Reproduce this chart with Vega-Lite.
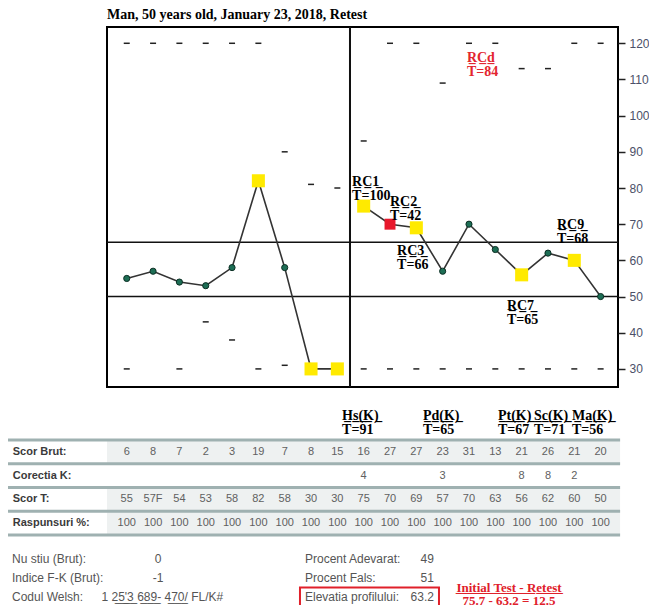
{
  "$schema": "https://vega.github.io/schema/vega-lite/v6.json",
  "width": 511,
  "height": 360,
  "autosize": {"type": "none"},
  "padding": {"left": 107, "top": 27, "right": 31, "bottom": 218},
  "background": "white",
  "config": {
    "view": {"stroke": "black", "strokeWidth": 2},
    "font": "Liberation Sans"
  },
  "title": {
    "text": "Man, 50 years old, January 23, 2018, Retest",
    "anchor": "start",
    "frame": "group",
    "font": "Liberation Serif",
    "fontSize": 14,
    "fontWeight": "bold",
    "color": "black",
    "offset": 4
  },
  "datasets": {
    "scales": [
      {"n": 1, "scale": "VRIN", "raw": "6", "kcorr": "", "tscore": "55", "resp": "100", "t": 55, "status": "normal", "part": "validity"},
      {"n": 2, "scale": "TRIN", "raw": "8", "kcorr": "", "tscore": "57F", "resp": "100", "t": 57, "status": "normal", "part": "validity"},
      {"n": 3, "scale": "F", "raw": "7", "kcorr": "", "tscore": "54", "resp": "100", "t": 54, "status": "normal", "part": "validity"},
      {"n": 4, "scale": "FB", "raw": "2", "kcorr": "", "tscore": "53", "resp": "100", "t": 53, "status": "normal", "part": "validity"},
      {"n": 5, "scale": "FP", "raw": "3", "kcorr": "", "tscore": "58", "resp": "100", "t": 58, "status": "normal", "part": "validity"},
      {"n": 6, "scale": "FBS", "raw": "19", "kcorr": "", "tscore": "82", "resp": "100", "t": 82, "status": "flag", "part": "validity"},
      {"n": 7, "scale": "L", "raw": "7", "kcorr": "", "tscore": "58", "resp": "100", "t": 58, "status": "normal", "part": "validity"},
      {"n": 8, "scale": "K", "raw": "8", "kcorr": "", "tscore": "30", "resp": "100", "t": 30, "status": "flag", "part": "validity"},
      {"n": 9, "scale": "S", "raw": "15", "kcorr": "", "tscore": "30", "resp": "100", "t": 30, "status": "flag", "part": "validity"},
      {"n": 10, "scale": "Hs", "raw": "16", "kcorr": "4", "tscore": "75", "resp": "100", "t": 75, "status": "flag", "part": "clinical"},
      {"n": 11, "scale": "D", "raw": "27", "kcorr": "", "tscore": "70", "resp": "100", "t": 70, "status": "alert", "part": "clinical"},
      {"n": 12, "scale": "Hy", "raw": "27", "kcorr": "", "tscore": "69", "resp": "100", "t": 69, "status": "flag", "part": "clinical"},
      {"n": 13, "scale": "Pd", "raw": "23", "kcorr": "3", "tscore": "57", "resp": "100", "t": 57, "status": "normal", "part": "clinical"},
      {"n": 14, "scale": "Mf", "raw": "31", "kcorr": "", "tscore": "70", "resp": "100", "t": 70, "status": "normal", "part": "clinical"},
      {"n": 15, "scale": "Pa", "raw": "13", "kcorr": "", "tscore": "63", "resp": "100", "t": 63, "status": "normal", "part": "clinical"},
      {"n": 16, "scale": "Pt", "raw": "21", "kcorr": "8", "tscore": "56", "resp": "100", "t": 56, "status": "flag", "part": "clinical"},
      {"n": 17, "scale": "Sc", "raw": "26", "kcorr": "8", "tscore": "62", "resp": "100", "t": 62, "status": "normal", "part": "clinical"},
      {"n": 18, "scale": "Ma", "raw": "21", "kcorr": "2", "tscore": "60", "resp": "100", "t": 60, "status": "flag", "part": "clinical"},
      {"n": 19, "scale": "Si", "raw": "20", "kcorr": "", "tscore": "50", "resp": "100", "t": 50, "status": "normal", "part": "clinical"}
    ],
    "bounds": [
      {"n": 1, "bound": 120}, {"n": 1, "bound": 30},
      {"n": 2, "bound": 120},
      {"n": 3, "bound": 120}, {"n": 3, "bound": 30},
      {"n": 4, "bound": 120}, {"n": 4, "bound": 43},
      {"n": 5, "bound": 120}, {"n": 5, "bound": 38},
      {"n": 6, "bound": 120}, {"n": 6, "bound": 30},
      {"n": 7, "bound": 90}, {"n": 7, "bound": 31},
      {"n": 8, "bound": 81},
      {"n": 9, "bound": 80},
      {"n": 10, "bound": 93}, {"n": 10, "bound": 30},
      {"n": 11, "bound": 120}, {"n": 11, "bound": 30},
      {"n": 12, "bound": 120}, {"n": 12, "bound": 30},
      {"n": 13, "bound": 109}, {"n": 13, "bound": 30},
      {"n": 14, "bound": 120}, {"n": 14, "bound": 30},
      {"n": 15, "bound": 120}, {"n": 15, "bound": 30},
      {"n": 16, "bound": 113}, {"n": 16, "bound": 30},
      {"n": 17, "bound": 113}, {"n": 17, "bound": 30},
      {"n": 18, "bound": 120}, {"n": 18, "bound": 30},
      {"n": 19, "bound": 120}, {"n": 19, "bound": 30}
    ],
    "levels": [{"level": 50}, {"level": 65}],
    "notes": [
      {"label": "R\u0332C\u03321\u0332", "tv": "T=100", "n": 9.56, "y": 80.6, "group": "RC"},
      {"label": "R\u0332C\u03322\u0332", "tv": "T=42", "n": 11.0, "y": 75.0, "group": "RC"},
      {"label": "R\u0332C\u03323\u0332", "tv": "T=66", "n": 11.27, "y": 61.4, "group": "RC"},
      {"label": "R\u0332C\u03329\u0332", "tv": "T=68", "n": 17.34, "y": 68.8, "group": "RC"},
      {"label": "R\u0332C\u03327\u0332", "tv": "T=65", "n": 15.44, "y": 46.4, "group": "RC"},
      {"label": "R\u0332C\u0332d\u0332", "tv": "T=84", "n": 13.92, "y": 114.8, "group": "RCd"},
      {"label": "H\u0332s\u0332(\u0332K\u0332)\u0332", "tv": "T=91", "n": 9.18, "y": 15.8, "group": "K"},
      {"label": "P\u0332d\u0332(\u0332K\u0332)\u0332", "tv": "T=65", "n": 12.25, "y": 15.8, "group": "K"},
      {"label": "P\u0332t\u0332(\u0332K\u0332)\u0332", "tv": "T=67", "n": 15.1, "y": 15.8, "group": "K"},
      {"label": "S\u0332c\u0332(\u0332K\u0332)\u0332", "tv": "T=71", "n": 16.47, "y": 15.8, "group": "K"},
      {"label": "M\u0332a\u0332(\u0332K\u0332)\u0332", "tv": "T=56", "n": 17.91, "y": 15.8, "group": "K"}
    ],
    "rows": [
      {"key": "raw", "label": "Scor Brut:", "shaded": "yes"},
      {"key": "kcorr", "label": "Corectia K:", "shaded": "no"},
      {"key": "tscore", "label": "Scor T:", "shaded": "yes"},
      {"key": "resp", "label": "Raspunsuri %:", "shaded": "yes"}
    ],
    "footer": [
      {"line": "r1", "label": "Nu stiu (Brut):", "value": "0", "code": "", "label2": "Procent Adevarat:", "value2": "49", "boxed": "no", "compare": "", "diff": ""},
      {"line": "r2", "label": "Indice F-K (Brut):", "value": "-1", "code": "", "label2": "Procent Fals:", "value2": "51", "boxed": "no", "compare": "", "diff": ""},
      {"line": "r3", "label": "Codul Welsh:", "value": "", "code": "1 2\u03325\u0332'\u03323\u0332 6\u03328\u03329\u0332- 4\u03327\u03320\u0332/ FL/K#", "label2": "Elevatia profilului:", "value2": "63.2", "boxed": "yes", "compare": "I\u0332n\u0332i\u0332t\u0332i\u0332a\u0332l\u0332 \u0332T\u0332e\u0332s\u0332t\u0332 \u0332-\u0332 \u0332R\u0332e\u0332t\u0332e\u0332s\u0332t\u0332", "diff": "75.7 - 63.2 = 12.5"}
    ]
  },
  "layer": [
    {
      "layer": [
        {
          "data": {"name": "levels"},
          "mark": {"type": "rule", "color": "#111", "strokeWidth": 1.6},
          "encoding": {
            "y": {"field": "level", "type": "quantitative", "scale": {"domain": [25, 124.5], "nice": false, "zero": false}, "axis": null}
          }
        },
        {
          "data": {"name": "levels"},
          "mark": {"type": "rule", "color": "#111", "strokeWidth": 2},
          "encoding": {
            "x": {"datum": 9.48, "type": "quantitative", "scale": {"domain": [0.25, 19.66], "nice": false, "zero": false}, "axis": null}
          }
        },
        {
          "data": {"name": "scales"},
          "mark": {"type": "line", "color": "#333", "strokeWidth": 1.6},
          "encoding": {
            "x": {
              "field": "n", "type": "quantitative",
              "scale": {"domain": [0.25, 19.66], "nice": false, "zero": false},
              "axis": {
                "values": [1, 2, 3, 4, 5, 6, 7, 8, 9, 10, 11, 12, 13, 14, 15, 16, 17, 18, 19],
                "labelExpr": "['VRIN','TRIN','F','FB','FP','FBS','L','K','S','Hs','D','Hy','Pd','Mf','Pa','Pt','Sc','Ma','Si'][datum.value - 1]",
                "title": null, "domain": false, "tickSize": 6, "tickColor": "#222", "tickWidth": 1.5,
                "labelFont": "Liberation Sans", "labelFontSize": 9, "labelColor": "#7d86a3", "labelPadding": 6,
                "labelFlush": false, "labelOverlap": false, "labelBound": false,
                "grid": true, "gridColor": "#ebebeb", "gridDash": [2, 2]
              }
            },
            "y": {
              "field": "t", "type": "quantitative",
              "scale": {"domain": [25, 124.5], "nice": false, "zero": false},
              "axis": {
                "values": [30, 40, 50, 60, 70, 80, 90, 100, 110, 120],
                "title": null, "domain": false, "grid": false, "tickSize": 7, "tickColor": "#222", "tickWidth": 1.5,
                "labelFont": "Liberation Sans", "labelFontSize": 12, "labelColor": "#4b5068", "labelPadding": 3
              }
            },
            "detail": {"field": "part", "type": "nominal"}
          }
        },
        {
          "data": {"name": "scales"},
          "transform": [{"filter": "datum.status === 'normal'"}],
          "mark": {"type": "point", "shape": "circle", "filled": true, "size": 38, "color": "#1d6e55", "stroke": "#0c2f24", "strokeWidth": 1, "opacity": 1},
          "encoding": {
            "x": {"field": "n", "type": "quantitative", "scale": {"domain": [0.25, 19.66], "nice": false, "zero": false}, "axis": null},
            "y": {"field": "t", "type": "quantitative", "scale": {"domain": [25, 124.5], "nice": false, "zero": false}, "axis": null}
          }
        },
        {
          "data": {"name": "scales"},
          "transform": [{"filter": "datum.status !== 'normal'"}],
          "mark": {"type": "point", "shape": "square", "filled": true, "opacity": 1},
          "encoding": {
            "x": {"field": "n", "type": "quantitative", "scale": {"domain": [0.25, 19.66], "nice": false, "zero": false}, "axis": null},
            "y": {"field": "t", "type": "quantitative", "scale": {"domain": [25, 124.5], "nice": false, "zero": false}, "axis": null},
            "color": {"field": "status", "type": "nominal", "scale": {"domain": ["flag", "alert"], "range": ["#ffea00", "#e8182c"]}, "legend": null},
            "size": {"field": "status", "type": "nominal", "scale": {"domain": ["flag", "alert"], "range": [170, 120]}, "legend": null}
          }
        },
        {
          "data": {"name": "notes"},
          "layer": [
            {
              "mark": {"type": "text", "align": "left", "baseline": "alphabetic", "font": "Liberation Serif", "fontSize": 14, "fontWeight": "bold"},
              "encoding": {
                "x": {"field": "n", "type": "quantitative", "scale": {"domain": [0.25, 19.66], "nice": false, "zero": false}, "axis": null},
                "y": {"field": "y", "type": "quantitative", "scale": {"domain": [25, 124.5], "nice": false, "zero": false}, "axis": null},
                "text": {"field": "label", "type": "nominal"},
                "color": {"field": "group", "type": "nominal", "scale": {"domain": ["RC", "RCd", "K"], "range": ["#000000", "#e3262f", "#000000"]}, "legend": null}
              }
            },
            {
              "mark": {"type": "text", "align": "left", "baseline": "alphabetic", "dy": 14, "font": "Liberation Serif", "fontSize": 14, "fontWeight": "bold"},
              "encoding": {
                "x": {"field": "n", "type": "quantitative", "scale": {"domain": [0.25, 19.66], "nice": false, "zero": false}, "axis": null},
                "y": {"field": "y", "type": "quantitative", "scale": {"domain": [25, 124.5], "nice": false, "zero": false}, "axis": null},
                "text": {"field": "tv", "type": "nominal"},
                "color": {"field": "group", "type": "nominal", "scale": {"domain": ["RC", "RCd", "K"], "range": ["#000000", "#e3262f", "#000000"]}, "legend": null}
              }
            }
          ]
        }
      ],
      "resolve": {"scale": {"color": "independent", "size": "independent"}}
    },
    {
      "data": {"name": "bounds"},
      "mark": {"type": "tick", "orient": "horizontal", "size": 6, "thickness": 1.5, "color": "#222", "opacity": 1},
      "encoding": {
        "x": {"field": "n", "type": "quantitative", "scale": {"domain": [0.25, 19.66], "nice": false, "zero": false}, "axis": null},
        "y": {
          "field": "bound", "type": "quantitative",
          "scale": {"domain": [25, 124.5], "nice": false, "zero": false},
          "axis": {
            "orient": "right",
            "values": [30, 40, 50, 60, 70, 80, 90, 100, 110, 120],
            "title": null, "domain": false, "grid": false, "tickSize": 7, "tickColor": "#222", "tickWidth": 1.5,
            "labelFont": "Liberation Sans", "labelFontSize": 12, "labelColor": "#4b5068", "labelPadding": 4
          }
        }
      }
    },
    {
      "layer": [
        {
          "data": {"name": "rows"},
          "transform": [{"filter": "datum.shaded === 'yes'"}],
          "mark": {"type": "rect", "color": "#eef1f1"},
          "encoding": {
            "x": {"datum": 0.25, "type": "quantitative", "scale": {"domain": [0.25, 19.66], "nice": false, "zero": false}, "axis": null},
            "x2": {"datum": 19.74},
            "y": {"field": "key", "type": "nominal", "scale": {"type": "band", "domain": ["raw", "kcorr", "tscore", "resp"], "range": [413, 508], "paddingInner": 0, "paddingOuter": 0}, "axis": null}
          }
        },
        {
          "data": {"name": "rows"},
          "mark": {"type": "rule", "color": "#9fb1b1", "strokeWidth": 3},
          "encoding": {
            "x": {"datum": -3.51, "type": "quantitative", "scale": {"domain": [0.25, 19.66], "nice": false, "zero": false}, "axis": null},
            "x2": {"datum": 19.74},
            "y": {"field": "key", "type": "nominal", "bandPosition": 0, "scale": {"type": "band", "domain": ["raw", "kcorr", "tscore", "resp"], "range": [413, 508], "paddingInner": 0, "paddingOuter": 0}, "axis": null}
          }
        },
        {
          "data": {"name": "rows"},
          "transform": [{"filter": "datum.key === 'resp'"}],
          "mark": {"type": "rule", "color": "#9fb1b1", "strokeWidth": 3},
          "encoding": {
            "x": {"datum": -3.51, "type": "quantitative", "scale": {"domain": [0.25, 19.66], "nice": false, "zero": false}, "axis": null},
            "x2": {"datum": 19.74},
            "y": {"field": "key", "type": "nominal", "bandPosition": 1, "scale": {"type": "band", "domain": ["raw", "kcorr", "tscore", "resp"], "range": [413, 508], "paddingInner": 0, "paddingOuter": 0}, "axis": null}
          }
        },
        {
          "data": {"name": "rows"},
          "mark": {"type": "text", "align": "left", "baseline": "middle", "font": "Liberation Sans", "fontSize": 11, "fontWeight": "bold", "color": "#3a3a3a"},
          "encoding": {
            "x": {"datum": -3.33, "type": "quantitative", "scale": {"domain": [0.25, 19.66], "nice": false, "zero": false}, "axis": null},
            "y": {"field": "key", "type": "nominal", "scale": {"type": "band", "domain": ["raw", "kcorr", "tscore", "resp"], "range": [413, 508], "paddingInner": 0, "paddingOuter": 0}, "axis": null},
            "text": {"field": "label", "type": "nominal"}
          }
        },
        {
          "data": {"name": "scales"},
          "transform": [{"fold": ["raw", "kcorr", "tscore", "resp"], "as": ["key", "value"]}],
          "mark": {"type": "text", "align": "center", "baseline": "middle", "font": "Liberation Sans", "fontSize": 11, "color": "#606060"},
          "encoding": {
            "x": {"field": "n", "type": "quantitative", "scale": {"domain": [0.25, 19.66], "nice": false, "zero": false}, "axis": null},
            "y": {"field": "key", "type": "nominal", "scale": {"type": "band", "domain": ["raw", "kcorr", "tscore", "resp"], "range": [413, 508], "paddingInner": 0, "paddingOuter": 0}, "axis": null},
            "text": {"field": "value", "type": "nominal"}
          }
        }
      ]
    },
    {
      "data": {"name": "footer"},
      "layer": [
        {
          "transform": [{"filter": "datum.boxed === 'yes'"}],
          "mark": {"type": "rect", "fill": null, "fillOpacity": 0, "stroke": "#e0202a", "strokeWidth": 2},
          "encoding": {
            "x": {"datum": 7.58, "type": "quantitative", "scale": {"domain": [0.25, 19.66], "nice": false, "zero": false}, "axis": null},
            "x2": {"datum": 12.86},
            "y": {"field": "line", "type": "nominal", "scale": {"type": "band", "domain": ["r1", "r2", "r3"], "range": [522.5, 579.5], "paddingInner": 0, "paddingOuter": 0}, "axis": null}
          }
        },
        {
          "mark": {"type": "text", "align": "left", "baseline": "middle", "font": "Liberation Sans", "fontSize": 12, "color": "#555"},
          "encoding": {
            "x": {"datum": -3.36, "type": "quantitative", "scale": {"domain": [0.25, 19.66], "nice": false, "zero": false}, "axis": null},
            "y": {"field": "line", "type": "nominal", "scale": {"type": "band", "domain": ["r1", "r2", "r3"], "range": [522.5, 579.5], "paddingInner": 0, "paddingOuter": 0}, "axis": null},
            "text": {"field": "label", "type": "nominal"}
          }
        },
        {
          "mark": {"type": "text", "align": "center", "baseline": "middle", "font": "Liberation Sans", "fontSize": 12, "color": "#555"},
          "encoding": {
            "x": {"datum": 2.19, "type": "quantitative", "scale": {"domain": [0.25, 19.66], "nice": false, "zero": false}, "axis": null},
            "y": {"field": "line", "type": "nominal", "scale": {"type": "band", "domain": ["r1", "r2", "r3"], "range": [522.5, 579.5], "paddingInner": 0, "paddingOuter": 0}, "axis": null},
            "text": {"field": "value", "type": "nominal"}
          }
        },
        {
          "mark": {"type": "text", "align": "left", "baseline": "middle", "font": "Liberation Sans", "fontSize": 12, "color": "#555"},
          "encoding": {
            "x": {"datum": 0.04, "type": "quantitative", "scale": {"domain": [0.25, 19.66], "nice": false, "zero": false}, "axis": null},
            "y": {"field": "line", "type": "nominal", "scale": {"type": "band", "domain": ["r1", "r2", "r3"], "range": [522.5, 579.5], "paddingInner": 0, "paddingOuter": 0}, "axis": null},
            "text": {"field": "code", "type": "nominal"}
          }
        },
        {
          "mark": {"type": "text", "align": "left", "baseline": "middle", "font": "Liberation Sans", "fontSize": 12, "color": "#555"},
          "encoding": {
            "x": {"datum": 7.77, "type": "quantitative", "scale": {"domain": [0.25, 19.66], "nice": false, "zero": false}, "axis": null},
            "y": {"field": "line", "type": "nominal", "scale": {"type": "band", "domain": ["r1", "r2", "r3"], "range": [522.5, 579.5], "paddingInner": 0, "paddingOuter": 0}, "axis": null},
            "text": {"field": "label2", "type": "nominal"}
          }
        },
        {
          "mark": {"type": "text", "align": "right", "baseline": "middle", "font": "Liberation Sans", "fontSize": 12, "color": "#555"},
          "encoding": {
            "x": {"datum": 12.67, "type": "quantitative", "scale": {"domain": [0.25, 19.66], "nice": false, "zero": false}, "axis": null},
            "y": {"field": "line", "type": "nominal", "scale": {"type": "band", "domain": ["r1", "r2", "r3"], "range": [522.5, 579.5], "paddingInner": 0, "paddingOuter": 0}, "axis": null},
            "text": {"field": "value2", "type": "nominal"}
          }
        },
        {
          "mark": {"type": "text", "align": "center", "baseline": "alphabetic", "dy": -5, "font": "Liberation Serif", "fontSize": 13, "fontWeight": "bold", "color": "#e0202a"},
          "encoding": {
            "x": {"datum": 15.52, "type": "quantitative", "scale": {"domain": [0.25, 19.66], "nice": false, "zero": false}, "axis": null},
            "y": {"field": "line", "type": "nominal", "scale": {"type": "band", "domain": ["r1", "r2", "r3"], "range": [522.5, 579.5], "paddingInner": 0, "paddingOuter": 0}, "axis": null},
            "text": {"field": "compare", "type": "nominal"}
          }
        },
        {
          "mark": {"type": "text", "align": "center", "baseline": "alphabetic", "dy": 8, "font": "Liberation Serif", "fontSize": 13, "fontWeight": "bold", "color": "#e0202a"},
          "encoding": {
            "x": {"datum": 15.52, "type": "quantitative", "scale": {"domain": [0.25, 19.66], "nice": false, "zero": false}, "axis": null},
            "y": {"field": "line", "type": "nominal", "scale": {"type": "band", "domain": ["r1", "r2", "r3"], "range": [522.5, 579.5], "paddingInner": 0, "paddingOuter": 0}, "axis": null},
            "text": {"field": "diff", "type": "nominal"}
          }
        }
      ]
    }
  ],
  "resolve": {"scale": {"y": "independent"}, "axis": {"y": "independent"}}
}
